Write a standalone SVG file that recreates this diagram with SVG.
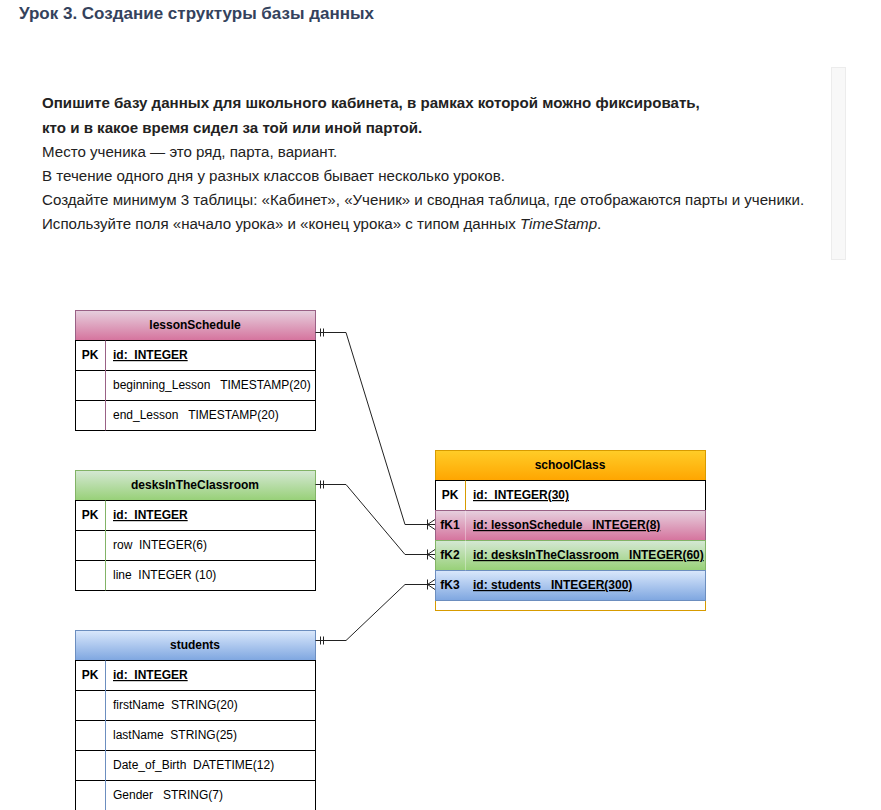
<svg xmlns="http://www.w3.org/2000/svg" width="881" height="810" viewBox="0 0 881 810">
<defs>
<linearGradient id="gPink" x1="0" y1="0" x2="0" y2="1"><stop offset="0" stop-color="#e6d0de"/><stop offset="1" stop-color="#d5739d"/></linearGradient>
<linearGradient id="gGreen" x1="0" y1="0" x2="0" y2="1"><stop offset="0" stop-color="#d5e8d4"/><stop offset="1" stop-color="#97d077"/></linearGradient>
<linearGradient id="gBlue" x1="0" y1="0" x2="0" y2="1"><stop offset="0" stop-color="#dae8fc"/><stop offset="1" stop-color="#7ea6e0"/></linearGradient>
<linearGradient id="gOrange" x1="0" y1="0" x2="0" y2="1"><stop offset="0" stop-color="#ffcd28"/><stop offset="1" stop-color="#ffa500"/></linearGradient>
</defs>
<style>
text{font-family:"Liberation Sans",Arial,sans-serif;}
.title{font-size:17px;font-weight:bold;fill:#34425c;}
.p{font-size:15.1px;fill:#222;}
.pb{font-size:15.1px;fill:#222;font-weight:bold;}
.h{font-size:12px;font-weight:bold;fill:#000;text-anchor:middle;}
.pk{font-size:12px;font-weight:bold;fill:#000;text-anchor:middle;}
.f{font-size:12px;fill:#000;white-space:pre;}
.fu{font-size:12px;font-weight:bold;fill:#000;text-decoration:underline;white-space:pre;}
.row{fill:#fff;stroke:#000;stroke-width:1;}
.ln{stroke:#000;stroke-width:1;fill:none;}
.conn path,.conn line{stroke:#222;stroke-width:1;fill:none;}
</style>
<rect width="881" height="810" fill="#fff"/>
<g id="header">
<text class="title" x="19" y="19">Урок 3. Создание структуры базы данных</text>
<rect x="831.5" y="67.5" width="14" height="192" fill="#f8f8f8" stroke="#ececec"/>
<text class="pb" x="42" y="108">Опишите базу данных для школьного кабинета, в рамках которой можно фиксировать,</text>
<text class="pb" x="42" y="133">кто и в какое время сидел за той или иной партой.</text>
<text class="p" x="42" y="157">Место ученика — это ряд, парта, вариант.</text>
<text class="p" x="42" y="181">В течение одного дня у разных классов бывает несколько уроков.</text>
<text class="p" x="42" y="205">Создайте минимум 3 таблицы: «Кабинет», «Ученик» и сводная таблица, где отображаются парты и ученики.</text>
<text class="p" x="42" y="229">Используйте поля «начало урока» и «конец урока» с типом данных <tspan font-style="italic">TimeStamp</tspan>.</text>
</g>
<g id="lessonSchedule">
<rect x="75.5" y="310.5" width="240" height="30" fill="url(#gPink)" stroke="#996185"/>
<rect class="row" x="75.5" y="340.5" width="240" height="90"/>
<line class="ln" x1="75.5" y1="370.5" x2="315.5" y2="370.5"/>
<line class="ln" x1="75.5" y1="400.5" x2="315.5" y2="400.5"/>
<line x1="105.5" y1="340.5" x2="105.5" y2="430.5" stroke="#996185"/>
<text class="h" x="195" y="329">lessonSchedule</text>
<text class="pk" x="90" y="359">PK</text>
<text class="fu" x="113" y="359">id:  INTEGER</text>
<text class="f" x="113" y="389">beginning_Lesson   TIMESTAMP(20)</text>
<text class="f" x="113" y="419">end_Lesson   TIMESTAMP(20)</text>
</g>
<g id="desksInTheClassroom">
<rect x="75.5" y="470.5" width="240" height="30" fill="url(#gGreen)" stroke="#82b366"/>
<rect class="row" x="75.5" y="500.5" width="240" height="90"/>
<line class="ln" x1="75.5" y1="530.5" x2="315.5" y2="530.5"/>
<line class="ln" x1="75.5" y1="560.5" x2="315.5" y2="560.5"/>
<line x1="105.5" y1="500.5" x2="105.5" y2="590.5" stroke="#82b366"/>
<text class="h" x="195" y="489">desksInTheClassroom</text>
<text class="pk" x="90" y="519">PK</text>
<text class="fu" x="113" y="519">id:  INTEGER</text>
<text class="f" x="113" y="549">row  INTEGER(6)</text>
<text class="f" x="113" y="579">line  INTEGER (10)</text>
</g>
<g id="students">
<rect x="75.5" y="630.5" width="240" height="30" fill="url(#gBlue)" stroke="#6c8ebf"/>
<rect class="row" x="75.5" y="660.5" width="240" height="150"/>
<line class="ln" x1="75.5" y1="690.5" x2="315.5" y2="690.5"/>
<line class="ln" x1="75.5" y1="720.5" x2="315.5" y2="720.5"/>
<line class="ln" x1="75.5" y1="750.5" x2="315.5" y2="750.5"/>
<line class="ln" x1="75.5" y1="780.5" x2="315.5" y2="780.5"/>
<line x1="105.5" y1="660.5" x2="105.5" y2="810" stroke="#6c8ebf"/>
<text class="h" x="195" y="649">students</text>
<text class="pk" x="90" y="679">PK</text>
<text class="fu" x="113" y="679">id:  INTEGER</text>
<text class="f" x="113" y="709">firstName  STRING(20)</text>
<text class="f" x="113" y="739">lastName  STRING(25)</text>
<text class="f" x="113" y="769">Date_of_Birth  DATETIME(12)</text>
<text class="f" x="113" y="799">Gender   STRING(7)</text>
</g>
<g id="schoolClass">
<rect x="435.5" y="450.5" width="270" height="160" fill="#fff" stroke="#d79b00"/>
<rect x="435.5" y="450.5" width="270" height="30" fill="url(#gOrange)" stroke="#d79b00"/>
<rect class="row" x="435.5" y="480.5" width="270" height="30"/>
<line x1="465.5" y1="480.5" x2="465.5" y2="510.5" stroke="#d79b00"/>
<rect x="435.5" y="510.5" width="270" height="30" fill="url(#gPink)" stroke="#996185"/>
<rect x="435.5" y="540.5" width="270" height="30" fill="url(#gGreen)" stroke="#82b366"/>
<rect x="435.5" y="570.5" width="270" height="30" fill="url(#gBlue)" stroke="#6c8ebf"/>
<line x1="465.5" y1="510.5" x2="465.5" y2="570.5" stroke="#ffffff" stroke-opacity="0.35"/>
<text class="h" x="570" y="469">schoolClass</text>
<text class="pk" x="450" y="499">PK</text>
<text class="fu" x="473" y="499">id:  INTEGER(30)</text>
<text class="pk" x="450" y="529">fK1</text>
<text class="fu" x="473" y="529">id: lessonSchedule   INTEGER(8)</text>
<text class="pk" x="450" y="559">fK2</text>
<text class="fu" x="473" y="559">id: desksInTheClassroom   INTEGER(60)</text>
<text class="pk" x="450" y="589">fK3</text>
<text class="fu" x="473" y="589">id: students   INTEGER(300)</text>
</g>
<g id="connectors" class="conn">
<path d="M315.5 332.5 H346 L405 524.5 H435"/>
<line x1="320.5" y1="328.5" x2="320.5" y2="336.5"/>
<line x1="323.5" y1="328.5" x2="323.5" y2="336.5"/>
<line x1="427.5" y1="519.5" x2="427.5" y2="529.5"/>
<path d="M427.5 524.5 L435 519.5 M427.5 524.5 L435 529.5"/>
<path d="M315.5 484.5 H346 L405 554.5 H435"/>
<line x1="320.5" y1="480.5" x2="320.5" y2="488.5"/>
<line x1="323.5" y1="480.5" x2="323.5" y2="488.5"/>
<line x1="427.5" y1="549.5" x2="427.5" y2="559.5"/>
<path d="M427.5 554.5 L435 549.5 M427.5 554.5 L435 559.5"/>
<path d="M315.5 640.5 H346 L405 584.5 H435"/>
<line x1="320.5" y1="636.5" x2="320.5" y2="644.5"/>
<line x1="323.5" y1="636.5" x2="323.5" y2="644.5"/>
<line x1="427.5" y1="579.5" x2="427.5" y2="589.5"/>
<path d="M427.5 584.5 L435 579.5 M427.5 584.5 L435 589.5"/>
</g>
</svg>
